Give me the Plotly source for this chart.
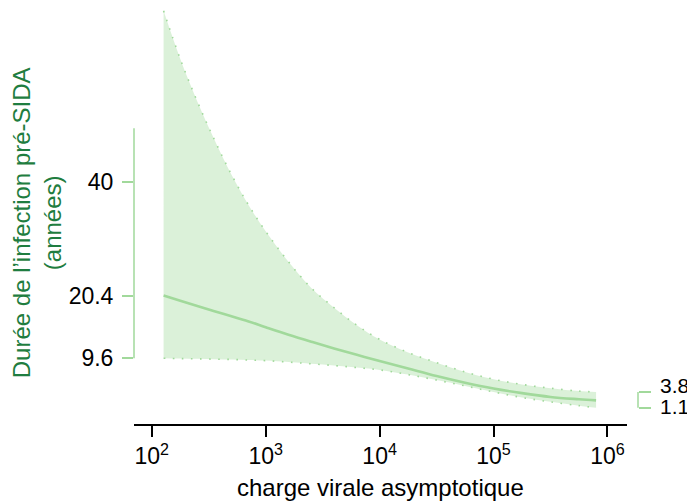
import plotly.graph_objects as go

# viral load grid (copies/mL)
charge_virale = [127, 178, 251, 355, 501, 708, 1000, 1585, 2512, 3981, 6310,
                 10000, 17783, 31623, 56234, 100000, 177828, 316228, 562341, 794328]
# mean duration (years)
duree_moyenne = [20.4, 19.5, 18.6, 17.7, 16.85, 15.95, 14.95, 13.65, 12.45, 11.3, 10.2,
                 9.15, 7.85, 6.55, 5.4, 4.4, 3.6, 2.95, 2.55, 2.35]
# upper bound
duree_haute = [69.4, 61.1, 53.8, 47.2, 41.2, 35.96, 31.45, 26.2, 21.7, 18.3, 15.3,
               12.85, 10.6, 8.85, 7.25, 6.0, 5.1, 4.45, 3.95, 3.8]
# lower bound
duree_basse = [9.6, 9.55, 9.5, 9.45, 9.4, 9.3, 9.2, 8.95, 8.65, 8.35, 8.0,
               7.6, 6.8, 5.85, 4.85, 3.8, 2.85, 2.1, 1.45, 1.1]

x_tickvals = [1e2, 1e3, 1e4, 1e5, 1e6]
x_ticktext = ["10<sup>2</sup>", "10<sup>3</sup>", "10<sup>4</sup>", "10<sup>5</sup>", "10<sup>6</sup>"]
y_left_ticks = [9.6, 20.4, 40]
y_left_text = ["9.6", "20.4", "40"]
y_left_line = [9.6, 49.2]
y_right_ticks = [1.1, 3.8]
y_right_text = ["1.1", "3.8"]

LINE = "#a1d99b"
FILL = "rgba(161,217,155,0.38)"
TITLE = "#1f7d40"
FONT = "Liberation Sans, Arial, Helvetica, sans-serif"
YR = [-1.71, 69.55]

fig = go.Figure()
fig.add_trace(go.Scatter(x=charge_virale, y=duree_basse, mode="lines",
                         line=dict(color=LINE, width=1.6, dash="1.6px,7.5px", shape="spline"),
                         showlegend=False, hoverinfo="skip"))
fig.add_trace(go.Scatter(x=charge_virale, y=duree_haute, mode="lines", fill="tonexty",
                         fillcolor=FILL,
                         line=dict(color=LINE, width=1.6, dash="1.6px,7.5px", shape="spline"),
                         showlegend=False, hoverinfo="skip"))
fig.add_trace(go.Scatter(x=charge_virale, y=duree_moyenne, mode="lines",
                         line=dict(color=LINE, width=2.6, shape="spline"),
                         showlegend=False))
# helper trace so the right-hand axis is drawn
fig.add_trace(go.Scatter(x=[charge_virale[-1]], y=[duree_basse[-1]], mode="markers",
                         marker=dict(opacity=0), yaxis="y2", showlegend=False, hoverinfo="skip"))

# page body adds an 8px margin, so the figure is drawn 8px smaller and shifted
fig.update_layout(
    width=687, height=494,
    margin=dict(l=126, r=57, t=2, b=78, autoexpand=False),
    paper_bgcolor="white", plot_bgcolor="white",
    font=dict(family=FONT, size=23, color="black"),
    xaxis=dict(type="log", range=[1.844, 6.169], domain=[0, 0.9776],
               showgrid=False, zeroline=False,
               showline=True, linecolor="black", linewidth=1.5,
               ticks="outside", ticklen=11, tickwidth=1.5, tickcolor="black",
               tickvals=x_tickvals, ticktext=x_ticktext,
               tickfont=dict(size=23),
               title=dict(text="charge virale asymptotique", font=dict(size=24), standoff=11)),
    yaxis=dict(range=YR, showgrid=False, zeroline=False, showline=False,
               ticks="outside", ticklen=11, tickwidth=1.5, tickcolor=LINE,
               tickvals=y_left_ticks, ticktext=y_left_text,
               tickfont=dict(size=23), ticklabelstandoff=4),
    yaxis2=dict(range=YR, overlaying="y", anchor="free", position=1, side="right",
                showgrid=False, zeroline=False, showline=False,
                ticks="outside", ticklen=12, tickwidth=1.5, tickcolor=LINE,
                tickvals=y_right_ticks, showticklabels=False),
    shapes=[
        dict(type="line", xref="paper", yref="y", x0=0, x1=0,
             y0=y_left_line[0], y1=y_left_line[1], line=dict(color=LINE, width=1.5)),
        dict(type="line", xref="paper", yref="y", x0=1, x1=1,
             y0=y_right_ticks[0], y1=y_right_ticks[1], line=dict(color=LINE, width=1.5)),
    ],
    annotations=[
        dict(text="Durée de l’infection pré-SIDA<br>(années)", textangle=-90,
             xref="paper", yref="paper", x=-0.192, y=0.4855,
             xanchor="center", yanchor="middle", showarrow=False,
             font=dict(size=24, color=TITLE)),
        dict(text=y_right_text[1], xref="paper", yref="y", x=1, y=y_right_ticks[1],
             xanchor="left", yanchor="middle", xshift=20, yshift=6, showarrow=False,
             font=dict(size=21)),
        dict(text=y_right_text[0], xref="paper", yref="y", x=1, y=y_right_ticks[0],
             xanchor="left", yanchor="middle", xshift=20, yshift=1, showarrow=False,
             font=dict(size=21)),
    ],
)

fig.write_html("out.html")
